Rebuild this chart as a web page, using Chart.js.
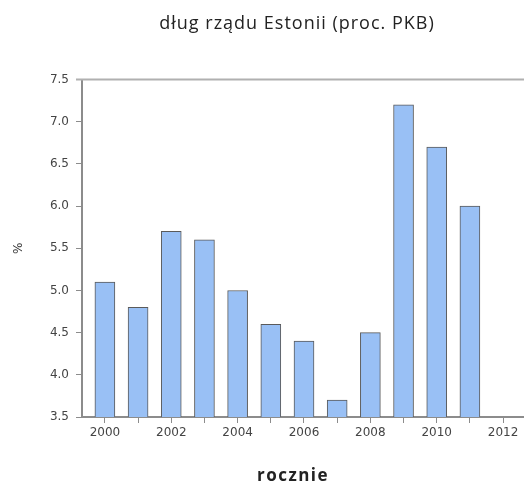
<!DOCTYPE html>
<html>
<head>
<meta charset="utf-8">
<script src="https://cdn.jsdelivr.net/npm/chart.js@4"></script>
<style>
  html, body { margin: 0; padding: 0; background: #fff; }
  #wrap { width: 524px; height: 486px; }
</style>
</head>
<body>
<div id="wrap"><canvas id="myBarChart"></canvas></div>
<script>
// dane: dług rządu Estonii (proc. PKB)
const years = [2000, 2001, 2002, 2003, 2004, 2005, 2006, 2007, 2008, 2009, 2010, 2011];
const debtValues = [5.1, 4.8, 5.7, 5.6, 5.0, 4.6, 4.4, 3.7, 4.5, 7.2, 6.7, 6.0];
const yTicks = [3.5, 4.0, 4.5, 5.0, 5.5, 6.0, 6.5, 7.0, 7.5];
const xTickLabels = [2000, 2002, 2004, 2006, 2008, 2010, 2012];

const axisGray = "#8c8c8c";
const tickFont = { family: "DejaVu Sans", size: 12 };

// rysuje tekst z odstępem liter i lekkim przesunięciem w lewo (jak w oryginale)
function withSpacing(obj, method, spacing, shiftX) {
  const orig = obj[method];
  obj[method] = function (...args) {
    const c = this.ctx || this.chart.ctx;
    c.save();
    c.letterSpacing = spacing;
    c.translate(shiftX, 0);
    orig.apply(this, args);
    c.restore();
  };
}

// górna linia ramki wykresu + odstępy liter
const extras = {
  id: "extras",
  afterInit(chart) {
    withSpacing(chart.titleBlock, "draw", "1px", -6);
  },
  beforeDraw(chart) {
    const x = chart.scales.x;
    if (!x._spaced) {
      withSpacing(x, "drawTitle", "1.5px", -10);
      x._spaced = true;
    }
  },
  afterDraw(chart) {
    const { ctx, chartArea } = chart;
    ctx.save();
    ctx.strokeStyle = "#b0b0b0";
    ctx.lineWidth = 2;
    ctx.beginPath();
    ctx.moveTo(chartArea.left - 6, chartArea.top);
    ctx.lineTo(chartArea.right, chartArea.top);
    ctx.stroke();
    ctx.restore();
  }
};

const ctx = document.getElementById("myBarChart").getContext("2d");
const myBarChart = new Chart(ctx, {
  type: "bar",
  data: {
    datasets: [{
      label: "dług",
      data: years.map((y, i) => ({ x: y, y: debtValues[i] })),
      backgroundColor: "#99c0f5",
      borderColor: "#5a5a5a",
      borderWidth: 1,
      borderSkipped: false,
      barThickness: 20
    }]
  },
  options: {
    responsive: true,
    maintainAspectRatio: false,
    animation: false,
    layout: { padding: 0 },
    plugins: {
      legend: { display: false },
      tooltip: { enabled: false },
      title: {
        display: true,
        fullSize: false,
        text: "dług rządu Estonii (proc. PKB)",
        color: "#222",
        font: { family: "Open Sans", size: 18, weight: "normal" },
        padding: { top: 13, bottom: 45 }
      }
    },
    scales: {
      x: {
        type: "linear",
        offset: false,
        min: 1999.31,
        max: 2012.63,
        afterFit: scale => { scale.height = 69; },
        grid: { display: true, offset: false, drawOnChartArea: false, color: axisGray, lineWidth: 1, tickLength: 6 },
        border: { display: true, color: axisGray, width: 2 },
        ticks: {
          stepSize: 1,
          includeBounds: false,
          autoSkip: false,
          maxRotation: 0,
          color: "#444",
          padding: 3,
          font: tickFont,
          callback: v => xTickLabels.includes(v) ? String(v) : ""
        },
        title: {
          display: true,
          text: "rocznie",
          color: "#222",
          font: { family: "Open Sans", size: 17, weight: "bold" },
          padding: { top: 0, bottom: 0 }
        }
      },
      y: {
        min: 3.5,
        max: 7.5,
        afterFit: scale => { scale.width = 82; },
        afterBuildTicks: scale => { scale.ticks = yTicks.map(v => ({ value: v })); },
        grid: { display: true, drawOnChartArea: false, color: axisGray, lineWidth: 1, tickLength: 6 },
        border: { display: true, color: axisGray, width: 2 },
        ticks: {
          color: "#444",
          padding: 7,
          font: tickFont,
          callback: v => v.toFixed(1)
        },
        title: {
          display: true,
          text: "%",
          color: "#333",
          font: { family: "DejaVu Sans", size: 12 },
          padding: { top: 12, bottom: 0 }
        }
      }
    }
  },
  plugins: [extras]
});
myBarChart.draw();
</script>
</body>
</html>
